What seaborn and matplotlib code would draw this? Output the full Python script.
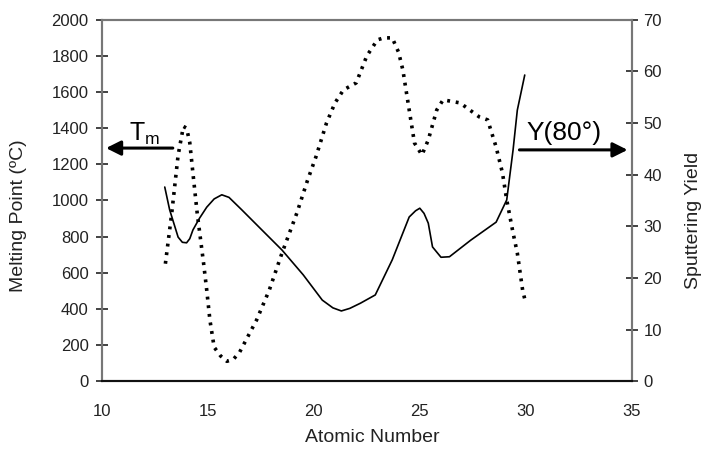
import matplotlib
matplotlib.use("Agg")
import matplotlib.pyplot as plt
import seaborn as sns
import pandas as pd

# Melting point (left axis, dotted)
mp_z = [13.0, 13.3, 13.6, 13.85, 14.0, 14.15, 14.3, 14.5, 14.8, 14.95, 15.1, 15.3, 15.6,
        15.9, 16.2, 16.5, 17.3, 17.9, 18.5, 19.2, 19.7, 20.1, 20.6, 21.0, 21.4, 22.0,
        22.5, 23.0, 23.3, 23.7, 24.0, 24.2, 24.5, 24.75, 25.1, 25.4, 25.8, 26.1, 26.9,
        27.8, 28.2, 28.6, 28.9, 29.1, 29.4, 29.6, 29.85, 30.0]
mp_val = [650, 930, 1250, 1410, 1400, 1320, 1150, 930, 654, 504, 338, 188, 140,
          110, 120, 160, 338, 504, 709, 930, 1110, 1241, 1429, 1540, 1612, 1651,
          1800, 1889, 1900, 1900, 1820, 1723, 1501, 1318, 1252, 1335, 1501, 1557, 1540,
          1463, 1446, 1296, 1152, 1003, 820, 709, 504, 430]

# Sputtering yield (right axis, solid)
sy_z = [12.97, 13.2, 13.6, 13.8, 14.0, 14.15, 14.3, 14.6, 14.95, 15.3, 15.66, 16.0,
        16.6, 17.5, 18.5, 19.5, 20.4, 20.9, 21.3, 21.7, 22.2, 22.9, 23.7, 24.5, 24.8,
        25.0, 25.2, 25.4, 25.6, 26.0, 26.4, 27.4, 28.6, 29.1, 29.4, 29.6, 29.95]
sy_val = [37.6, 33.2, 27.9, 26.9, 26.8, 27.6, 29.3, 31.5, 33.7, 35.3, 36.1, 35.6,
          33.2, 29.5, 25.4, 20.6, 15.7, 14.2, 13.6, 14.1, 15.1, 16.7, 23.5, 31.8, 33.0,
          33.5, 32.5, 30.6, 26.0, 24.0, 24.1, 27.3, 30.8, 35.1, 44.8, 52.5, 59.3]

x_ticks = [10, 15, 20, 25, 30, 35]
left_ticks = [0, 200, 400, 600, 800, 1000, 1200, 1400, 1600, 1800, 2000]
right_ticks = [0, 10, 20, 30, 40, 50, 60, 70]

sns.set_theme(style="white")
plt.rcParams['font.family'] = ['Liberation Sans', 'DejaVu Sans']

fig = plt.figure(figsize=(7.02, 4.5), dpi=100)
ax = fig.add_axes([0.145, 0.153, 0.755, 0.803])
ax2 = ax.twinx()

df_mp = pd.DataFrame({"z": mp_z, "v": mp_val})
df_sy = pd.DataFrame({"z": sy_z, "v": sy_val})

sns.lineplot(data=df_mp, x="z", y="v", ax=ax, color="black", linewidth=2.6,
             linestyle=(0, (0.8, 1.6)), sort=False)
sns.lineplot(data=df_sy, x="z", y="v", ax=ax2, color="black", linewidth=1.2, sort=False)

ax.set_xlim(10, 35)
ax.set_ylim(0, 2000)
ax2.set_ylim(0, 70)
ax.set_xticks(x_ticks)
ax.set_yticks(left_ticks)
ax2.set_yticks(right_ticks)

ax.set_xlabel("")
ax.set_ylabel("")
ax2.set_ylabel("")
lab_col = "#222222"
fig.text(372 / 702, 1 - 437 / 450, "Atomic Number", fontsize=14, color=lab_col,
         ha="center", va="center")
fig.text(19 / 702, 1 - 216 / 450, "Melting Point (ºC)", fontsize=14, color=lab_col,
         ha="center", va="center", rotation=90)
fig.text(693 / 702, 1 - 220 / 450, "Sputtering Yield", fontsize=14, color=lab_col,
         ha="center", va="center", rotation=90)

for a in (ax, ax2):
    a.tick_params(axis="both", direction="inout", length=9, width=1.2,
                  labelsize=12, colors="#222222", pad=5)
    for s in a.spines.values():
        s.set_linewidth(1.5)
        s.set_color("#777777")
    a.spines["bottom"].set_color("#111111")
ax.tick_params(axis="x", pad=12)
ax2.tick_params(axis="y", pad=4)

# Arrows and labels
ax.annotate("", xy=(10.2, 1290), xytext=(13.35, 1290),
            arrowprops=dict(arrowstyle="-|>", color="black", lw=2.2,
                            mutation_scale=22, shrinkA=0, shrinkB=0))
ax.text(11.3, 1330, r"T$_\mathregular{m}$", fontsize=18, color="black")
ax.annotate("", xy=(34.8, 1280), xytext=(29.7, 1280),
            arrowprops=dict(arrowstyle="-|>", color="black", lw=2.2,
                            mutation_scale=22, shrinkA=0, shrinkB=0))
ax.text(30.05, 1335, "Y(80°)", fontsize=19, color="black")

fig.savefig("out.png", dpi=100)
